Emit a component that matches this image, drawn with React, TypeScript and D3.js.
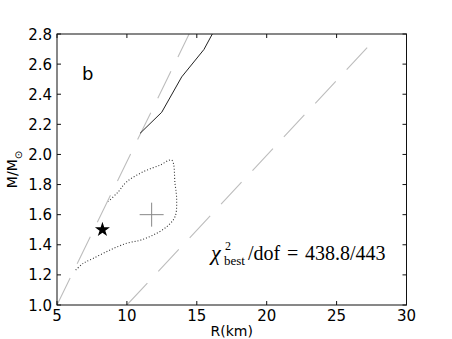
import React, { useEffect, useRef } from 'react';
import * as d3 from 'd3';

// ticks
const xTicks = [5, 10, 15, 20, 25, 30];
const yTicks = [1.0, 1.2, 1.4, 1.6, 1.8, 2.0, 2.2, 2.4, 2.6, 2.8];

// causality-type limits (gray dashed)
const leftLimit = [
  { r: 5.0, m: 1.0 },
  { r: 14.45, m: 2.8 }
];
const rightLimit = [
  { r: 10.0, m: 1.0 },
  { r: 27.6, m: 2.75 }
];

// solid black curve
const solidCurve = [
  { r: 10.94, m: 2.14 },
  { r: 12.49, m: 2.28 },
  { r: 13.92, m: 2.515 },
  { r: 15.51, m: 2.697 },
  { r: 16.11, m: 2.8 }
];

// dotted confidence contour (open on the left, cut by the limit line)
const contour = [
  { r: 6.34, m: 1.232 },
  { r: 6.88, m: 1.277 },
  { r: 7.6, m: 1.31 },
  { r: 8.79, m: 1.365 },
  { r: 9.98, m: 1.41 },
  { r: 10.94, m: 1.43 },
  { r: 11.89, m: 1.465 },
  { r: 12.85, m: 1.52 },
  { r: 13.44, m: 1.586 },
  { r: 13.56, m: 1.697 },
  { r: 13.44, m: 1.808 },
  { r: 13.2, m: 1.962 },
  { r: 12.37, m: 1.929 },
  { r: 11.17, m: 1.885 },
  { r: 9.98, m: 1.818 },
  { r: 9.38, m: 1.752 },
  { r: 8.67, m: 1.686 }
];

const bestFit = { r: 11.77, m: 1.6 };
const starPoint = { r: 8.25, m: 1.5 };

export default function App() {
  const ref = useRef<SVGSVGElement>(null);

  useEffect(() => {
    const margin = { top: 34, right: 45.5, bottom: 34, left: 57 };
    const width = 452 - margin.left - margin.right;
    const height = 339 - margin.top - margin.bottom;

    const root = d3.select(ref.current);
    root.selectAll('*').remove();
    const svg = root.append('g')
      .attr('transform', 'translate(' + margin.left + ',' + margin.top + ')');

    const x = d3.scaleLinear().domain([5, 30]).range([0, width]);
    const y = d3.scaleLinear().domain([1.0, 2.8]).range([height, 0]);

    const line = d3.line<{ r: number; m: number }>()
      .x(d => x(d.r))
      .y(d => y(d.m));

    svg.append('clipPath').attr('id', 'plotclip')
      .append('rect').attr('width', width).attr('height', height);

    const plot = svg.append('g').attr('clip-path', 'url(#plotclip)');

    // gray dashed lines
    [leftLimit, rightLimit].forEach(data => {
      plot.append('path')
        .datum(data)
        .attr('d', line)
        .attr('fill', 'none')
        .attr('stroke', '#bdbdbd')
        .attr('stroke-width', 1.1)
        .attr('stroke-dasharray', '30,16');
    });

    plot.append('path')
      .datum(solidCurve)
      .attr('d', line)
      .attr('fill', 'none')
      .attr('stroke', '#222')
      .attr('stroke-width', 1);

    plot.append('path')
      .datum(contour)
      .attr('d', d3.line<{ r: number; m: number }>().x(d => x(d.r)).y(d => y(d.m)).curve(d3.curveCatmullRom))
      .attr('fill', 'none')
      .attr('stroke', '#333')
      .attr('stroke-width', 1.1)
      .attr('stroke-dasharray', '1,2');

    // best fit cross
    const cx = x(bestFit.r), cy = y(bestFit.m);
    plot.append('path')
      .attr('d', 'M' + (cx - 12) + ',' + cy + 'H' + (cx + 12) + 'M' + cx + ',' + (cy - 12) + 'V' + (cy + 12))
      .attr('stroke', '#888')
      .attr('stroke-width', 1);

    // star
    plot.append('path')
      .attr('d', d3.symbol().type(d3.symbolStar).size(70)())
      .attr('transform', 'translate(' + x(starPoint.r) + ',' + y(starPoint.m) + ')')
      .attr('fill', '#000');

    // frame
    svg.append('rect')
      .attr('width', width).attr('height', height)
      .attr('fill', 'none').attr('stroke', '#111').attr('stroke-width', 1);

    // ticks
    const tickLen = 4;
    const font = 'DejaVu Sans, sans-serif';
    xTicks.forEach(t => {
      svg.append('line').attr('x1', x(t)).attr('x2', x(t)).attr('y1', height).attr('y2', height - tickLen).attr('stroke', '#111');
      svg.append('line').attr('x1', x(t)).attr('x2', x(t)).attr('y1', 0).attr('y2', tickLen).attr('stroke', '#111');
      svg.append('text')
        .attr('x', x(t)).attr('y', height + 16)
        .attr('text-anchor', 'middle')
        .attr('font-family', font).attr('font-size', 15)
        .text(t);
    });
    yTicks.forEach(t => {
      svg.append('line').attr('x1', 0).attr('x2', tickLen).attr('y1', y(t)).attr('y2', y(t)).attr('stroke', '#111');
      svg.append('line').attr('x1', width).attr('x2', width - tickLen).attr('y1', y(t)).attr('y2', y(t)).attr('stroke', '#111');
      svg.append('text')
        .attr('x', -5).attr('y', y(t) + 5.5)
        .attr('text-anchor', 'end')
        .attr('font-family', font).attr('font-size', 15)
        .text(d3.format('.1f')(t));
    });

    // axis labels
    svg.append('text')
      .attr('x', width / 2).attr('y', height + 31)
      .attr('text-anchor', 'middle')
      .attr('font-family', font).attr('font-size', 14)
      .text('R(km)');

    const yl = svg.append('text')
      .attr('transform', 'translate(' + (-40) + ',' + (height / 2) + ') rotate(-90)')
      .attr('text-anchor', 'middle')
      .attr('font-family', font).attr('font-size', 14);
    yl.append('tspan').text('M/M');
    yl.append('tspan').attr('dy', 5).attr('font-size', 10).text('\u2299');

    // panel letter
    svg.append('text')
      .attr('x', 25).attr('y', 46)
      .attr('font-family', font).attr('font-size', 18)
      .text('b');

    // chi-square annotation
    const serif = 'Liberation Serif, DejaVu Serif, serif';
    const chi = root.append('g').attr('transform', 'translate(211,260)')
      .attr('font-family', serif);
    chi.append('text').attr('x', 0).attr('y', 0).attr('font-size', 22).attr('font-style', 'italic').text('\u03c7');
    chi.append('text').attr('x', 14).attr('y', -10).attr('font-size', 12).text('2');
    chi.append('text').attr('x', 13).attr('y', 5).attr('font-size', 13).text('best');
    chi.append('text').attr('x', 37).attr('y', 0).attr('font-size', 20).text('/dof');
    chi.append('text').attr('x', 76).attr('y', 0).attr('font-size', 20).text('=');
    chi.append('text').attr('x', 94).attr('y', 0).attr('font-size', 20).text('438.8/443');
  }, []);

  return (
    <svg ref={ref} width={452} height={339} style={{ position: 'absolute', left: 0, top: 0, background: '#fff' }} />
  );
}
